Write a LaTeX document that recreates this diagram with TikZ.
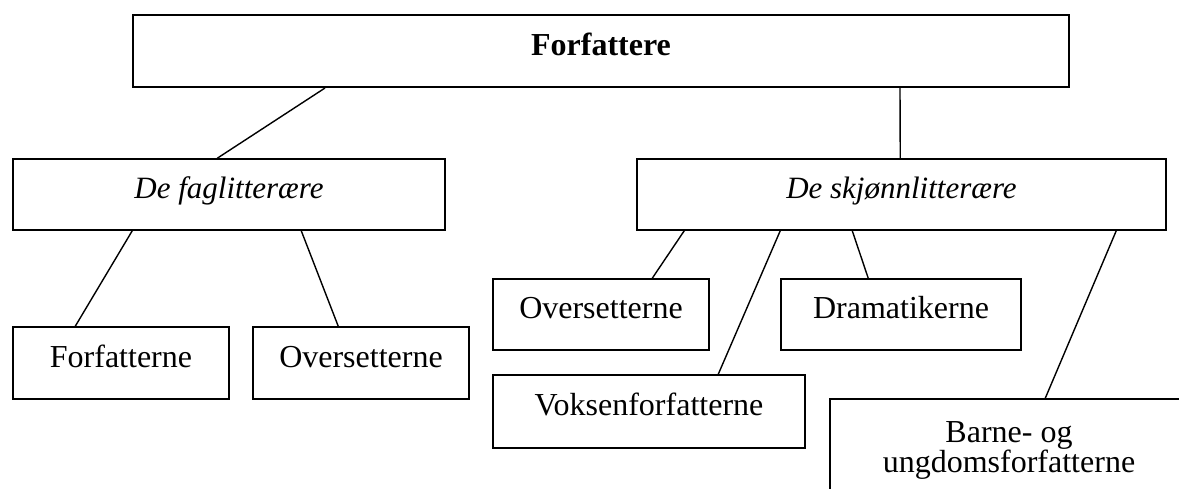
\documentclass[tikz,border=0pt]{standalone}
\usepackage{fontspec}
\setmainfont{Liberation Serif}
\usetikzlibrary{calc}
\begin{document}
\begin{tikzpicture}[x=1pt,y=-1pt,
  multibox/.style={draw, line width=1.5pt, inner sep=0pt, align=center,
    font=\fontsize{32}{30}\selectfont},
  box/.style={multibox, text height=22pt, text depth=14pt},
  itbox/.style={box, font=\fontsize{31}{30}\selectfont\itshape},
  topbox/.style={box, line width=2pt, font=\fontsize{32}{30}\selectfont\bfseries},
  link/.style={line width=1.4pt}]
\useasboundingbox (0,0) rectangle (1179,488);
\clip (0,0) rectangle (1179,488);
\node[topbox, minimum width=936pt, minimum height=72pt] (top) at (601,51) {Forfattere};
\node[itbox, minimum width=432pt, minimum height=71pt] (fag) at (229,194.5) {De faglitterære};
\node[itbox, minimum width=529pt, minimum height=71pt] (skj) at (901.5,194.5) {De skjønnlitterære};
\node[box, minimum width=216pt, minimum height=72pt] (lf) at (121,363) {Forfatterne};
\node[box, minimum width=216pt, minimum height=72pt] (lo) at (361,363) {Oversetterne};
\node[box, minimum width=216pt, minimum height=71pt] (ro) at (601,314.5) {Oversetterne};
\node[box, minimum width=240pt, minimum height=71pt] (dr) at (901,314.5) {Dramatikerne};
\node[box, minimum width=312pt, minimum height=73pt] (vo) at (649,411.5) {Voksenforfatterne};
\node[multibox, minimum width=358pt, minimum height=102pt] (ba) at (1009,450) {Barne- og\\ungdomsforfatterne};
\draw[link] ($(top.south west)+(193,0)$) -- ($(fag.north west)+(205,0)$);
\draw[link] ($(top.south west)+(768,0)$) -- ($(skj.north west)+(264,0)$);
\draw[link] ($(fag.south west)+(120,0)$) -- ($(lf.north west)+(63,0)$);
\draw[link] ($(fag.south west)+(289,0)$) -- ($(lo.north west)+(86,0)$);
\draw[link] ($(skj.south west)+(48,0)$) -- ($(ro.north west)+(160,0)$);
\draw[link] ($(skj.south west)+(144,0)$) -- ($(vo.north west)+(226,0)$);
\draw[link] ($(skj.south west)+(216,0)$) -- ($(dr.north west)+(88,0)$);
\draw[link] ($(skj.south west)+(480,0)$) -- ($(ba.north west)+(216,0)$);
\end{tikzpicture}
\end{document}
